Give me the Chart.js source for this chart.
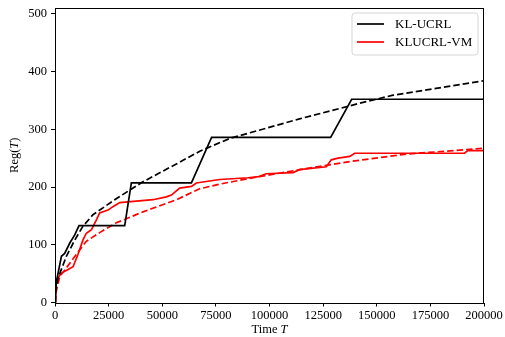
<!DOCTYPE html>
<html>
<head>
<meta charset="utf-8">
<script src="https://cdn.jsdelivr.net/npm/chart.js@4.4.1/dist/chart.umd.min.js"></script>
<style>
  html, body { margin: 0; padding: 0; background: #fff; }
  #c { display: block; }
</style>
</head>
<body>
<canvas id="c" width="505" height="337"></canvas>
<script>
// ---- data ----
const klT   = [0, 300, 800, 3000, 4500, 6900, 9200, 11200, 32500, 35600, 63600, 73000, 128500, 138300, 200000];
const klReg = [0, 22, 39, 80, 85, 103, 117, 133, 133, 207, 207, 286, 286, 352, 352];

const klFitT   = [0, 300, 1400, 5300, 9200, 13000, 17700, 23200, 27800, 41000, 56600, 67500, 81400, 114000, 142000, 157600, 200000];
const klFitReg = [0, 20, 42, 80, 108, 132, 152, 166, 178, 209, 240, 262, 284, 318, 345, 359, 384];

const vmT   = [0, 300, 700, 3000, 6100, 8400, 10700, 13000, 14600, 17000, 19300, 20800, 24700, 27000, 30200, 45700, 51900, 54300, 58100, 63600, 65900, 76800, 90000, 95000, 98500, 111000, 114000, 126500, 128800, 132000, 137400, 139700, 190900, 192500, 200000];
const vmReg = [0, 25, 39, 51, 57, 62, 83, 108, 120, 126, 143, 155, 160, 166, 173, 178, 183, 186, 198, 201, 207, 213, 216, 218, 223, 225, 230, 235, 247, 250, 253, 258.5, 258.5, 263, 263];

const vmFitT   = [0, 300, 2200, 4500, 6900, 11500, 14600, 20800, 28600, 41000, 56600, 67500, 76800, 90800, 114000, 137400, 163800, 200000];
const vmFitReg = [0, 15, 45, 56, 68, 91, 106, 121, 138, 157, 178, 197, 205, 215, 230, 244, 257, 267];

const xTicks = [0, 25000, 50000, 75000, 100000, 125000, 150000, 175000, 200000];
const yTicks = [0, 100, 200, 300, 400, 500];
const legendLabels = ['KL-UCRL', 'KLUCRL-VM'];
const xTitle = ['Time ', 'T'];
const yTitle = ['Reg(', 'T', ')'];

const pts = (xs, ys) => xs.map((x, i) => ({ x: x, y: ys[i] }));
const SERIF = '"Liberation Serif", "DejaVu Serif", serif';

const frameAndText = {
  id: 'frameAndText',
  afterDatasetsDraw(chart) {
    const { ctx, chartArea: a } = chart;
    ctx.save();
    ctx.strokeStyle = '#000';
    ctx.lineWidth = 1;
    ctx.strokeRect(Math.round(a.left) + 0.5, Math.round(a.top) + 0.5,
                   Math.round(a.right - a.left) - 1, Math.round(a.bottom - a.top));
    ctx.restore();
  },
  afterDraw(chart) {
    const { ctx, chartArea: a } = chart;
    ctx.save();
    ctx.fillStyle = '#000';
    ctx.textBaseline = 'middle';
    const normal = '12.5px ' + SERIF;
    const italic = 'italic 12.5px ' + SERIF;
    // x title
    ctx.font = normal; const w1 = ctx.measureText(xTitle[0]).width;
    ctx.font = italic; const w2 = ctx.measureText(xTitle[1]).width;
    let x0 = (a.left + a.right) / 2 - (w1 + w2) / 2;
    ctx.textAlign = 'left';
    ctx.font = normal; ctx.fillText(xTitle[0], x0, 330);
    ctx.font = italic; ctx.fillText(xTitle[1], x0 + w1, 330);
    // y title
    ctx.translate(15, (a.top + a.bottom) / 2);
    ctx.rotate(-Math.PI / 2);
    ctx.font = normal; const u1 = ctx.measureText(yTitle[0]).width;
    ctx.font = italic; const u2 = ctx.measureText(yTitle[1]).width;
    ctx.font = normal; const u3 = ctx.measureText(yTitle[2]).width;
    let s = -(u1 + u2 + u3) / 2;
    ctx.font = normal; ctx.fillText(yTitle[0], s, 0);
    ctx.font = italic; ctx.fillText(yTitle[1], s + u1, 0);
    ctx.font = normal; ctx.fillText(yTitle[2], s + u1 + u2, 0);
    ctx.restore();

    // legend
    ctx.save();
    const bx = 352, by = 13, bw = 126, bh = 42, r = 3;
    ctx.beginPath();
    ctx.moveTo(bx + r, by);
    ctx.lineTo(bx + bw - r, by); ctx.quadraticCurveTo(bx + bw, by, bx + bw, by + r);
    ctx.lineTo(bx + bw, by + bh - r); ctx.quadraticCurveTo(bx + bw, by + bh, bx + bw - r, by + bh);
    ctx.lineTo(bx + r, by + bh); ctx.quadraticCurveTo(bx, by + bh, bx, by + bh - r);
    ctx.lineTo(bx, by + r); ctx.quadraticCurveTo(bx, by, bx + r, by);
    ctx.closePath();
    ctx.fillStyle = 'rgba(255,255,255,0.8)';
    ctx.fill();
    ctx.strokeStyle = '#d6d6d6';
    ctx.lineWidth = 1;
    ctx.stroke();
    const colors = ['#000000', '#ff0000'];
    const ys = [24, 42];
    ctx.font = '13px ' + SERIF;
    ctx.textAlign = 'left';
    ctx.textBaseline = 'middle';
    for (let i = 0; i < 2; i++) {
      ctx.strokeStyle = colors[i];
      ctx.lineWidth = 1.7;
      ctx.beginPath(); ctx.moveTo(357, ys[i]); ctx.lineTo(384, ys[i]); ctx.stroke();
      ctx.fillStyle = '#000';
      ctx.fillText(legendLabels[i], 395, ys[i] + 0.5);
    }
    ctx.restore();
  }
};

new Chart(document.getElementById('c'), {
  type: 'line',
  data: {
    datasets: [
      { label: 'KL-UCRL', data: pts(klT, klReg), borderColor: '#000000', borderWidth: 1.7 },
      { label: 'KL-UCRL fit', data: pts(klFitT, klFitReg), borderColor: '#000000', borderWidth: 1.7, borderDash: [6.5, 3] },
      { label: 'KLUCRL-VM', data: pts(vmT, vmReg), borderColor: '#ff0000', borderWidth: 1.7 },
      { label: 'KLUCRL-VM fit', data: pts(vmFitT, vmFitReg), borderColor: '#ff0000', borderWidth: 1.7, borderDash: [6.5, 3] }
    ]
  },
  options: {
    responsive: false,
    animation: false,
    layout: { padding: { top: 8, right: 21, left: 0, bottom: 0 } },
    elements: { point: { radius: 0 }, line: { tension: 0, fill: false } },
    plugins: { legend: { display: false }, tooltip: { enabled: false } },
    scales: {
      x: {
        type: 'linear', min: 0, max: 200000,
        afterFit(s) { s.height = 34.5; s.paddingLeft = 0; s.paddingRight = 0; },
        afterBuildTicks(s) { s.ticks = xTicks.map(v => ({ value: v })); },
        grid: { drawOnChartArea: false, drawTicks: true, tickLength: 4, color: '#000', tickWidth: 1 },
        border: { display: false },
        ticks: { color: '#000', padding: 2, maxRotation: 0, autoSkip: false,
                 font: { family: SERIF, size: 12.5 }, callback: v => String(v) }
      },
      y: {
        type: 'linear', min: 0, max: 510,
        afterFit(s) { s.width = 55; s.paddingTop = 0; s.paddingBottom = 0; },
        afterBuildTicks(s) { s.ticks = yTicks.map(v => ({ value: v })); },
        grid: { drawOnChartArea: false, drawTicks: true, tickLength: 4, color: '#000', tickWidth: 1 },
        border: { display: false },
        ticks: { color: '#000', padding: 4, autoSkip: false,
                 font: { family: SERIF, size: 12.5 }, callback: v => String(v) }
      }
    }
  },
  plugins: [frameAndText]
});
</script>
</body>
</html>
